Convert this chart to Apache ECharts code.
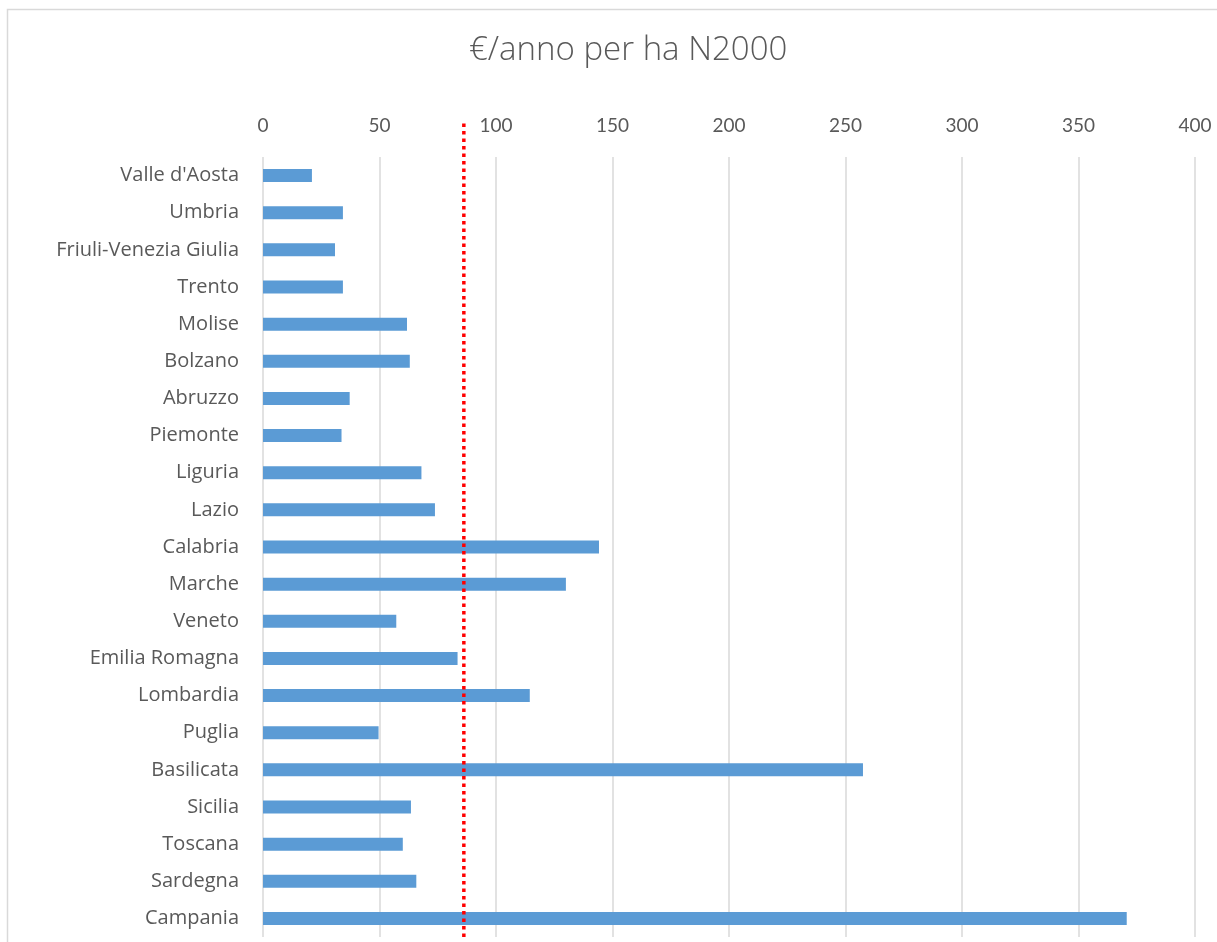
<!DOCTYPE html>
<html>
<head>
<meta charset="utf-8">
<script src="https://cdn.jsdelivr.net/npm/echarts@6/dist/echarts.min.js"></script>
<style>
  html, body { margin: 0; padding: 0; background: #fff; }
  #chart { width: 1217px; height: 942px; }
</style>
</head>
<body>
<div id="chart"></div>
<script>
// regioni, dall'alto in basso
const regioni = [
  "Valle d'Aosta", 'Umbria', 'Friuli-Venezia Giulia', 'Trento', 'Molise',
  'Bolzano', 'Abruzzo', 'Piemonte', 'Liguria', 'Lazio', 'Calabria',
  'Marche', 'Veneto', 'Emilia Romagna', 'Lombardia', 'Puglia',
  'Basilicata', 'Sicilia', 'Toscana', 'Sardegna', 'Campania'
]
// €/anno per ha N2000
const valori = [
  21.0, 34.3, 30.9, 34.3, 61.8,
  63.0, 37.2, 33.7, 68.0, 73.8, 144.2,
  130.0, 57.2, 83.5, 114.5, 49.6,
  257.5, 63.5, 60.0, 65.8, 370.7
]
// linea rossa tratteggiata (media)
const media = 86.2
const xTicks = [0, 50, 100, 150, 200, 250, 300, 350, 400]

const font = 'Lato, "Open Sans", sans-serif'
const wideFont = '"Open Sans", Lato, sans-serif'
const chart = echarts.init(document.getElementById('chart'))

chart.setOption({
  backgroundColor: '#fff',
  animation: false,
  title: {
    text: '€/anno per ha N2000',
    left: 464,
    top: 29,
    textStyle: { fontFamily: wideFont, fontSize: 33, fontWeight: 300, color: '#595959' }
  },
  graphic: [{
    type: 'rect',
    shape: { x: 7.5, y: 9.5, width: 1220, height: 940 },
    style: { fill: 'none', stroke: '#d9d9d9', lineWidth: 1.5 },
    silent: true
  }],
  grid: [
    { left: 263, right: 22, top: 157, bottom: 5 },
    { left: 263, right: 22, top: 122, bottom: 5 }
  ],
  xAxis: [{
    gridIndex: 0,
    type: 'value',
    position: 'top',
    min: xTicks[0],
    max: xTicks[xTicks.length - 1],
    interval: 50,
    axisLine: { show: false },
    axisTick: { show: false },
    axisLabel: { fontFamily: font, fontSize: 19, color: '#595959', margin: 22 },
    splitLine: { lineStyle: { color: '#d9d9d9', width: 1.5 } }
  }, {
    gridIndex: 1,
    type: 'value',
    min: xTicks[0],
    max: xTicks[xTicks.length - 1],
    show: false
  }],
  yAxis: [{
    gridIndex: 0,
    type: 'category',
    inverse: true,
    data: regioni,
    axisLine: { show: false },
    axisTick: { show: false },
    axisLabel: { fontFamily: wideFont, fontSize: 20, color: '#595959', margin: 24 }
  }, {
    gridIndex: 1,
    type: 'value',
    min: 0,
    max: 1,
    show: false
  }],
  series: [{
    type: 'bar',
    xAxisIndex: 0,
    yAxisIndex: 0,
    data: valori,
    barWidth: 13,
    itemStyle: { color: '#5b9bd5' }
  }, {
    type: 'line',
    xAxisIndex: 1,
    yAxisIndex: 1,
    data: [[media, 0], [media, 1]],
    symbol: 'none',
    z: 5,
    lineStyle: { color: '#ff0000', width: 3.5, type: [3.5, 4], cap: 'butt' }
  }]
})
</script>
</body>
</html>
